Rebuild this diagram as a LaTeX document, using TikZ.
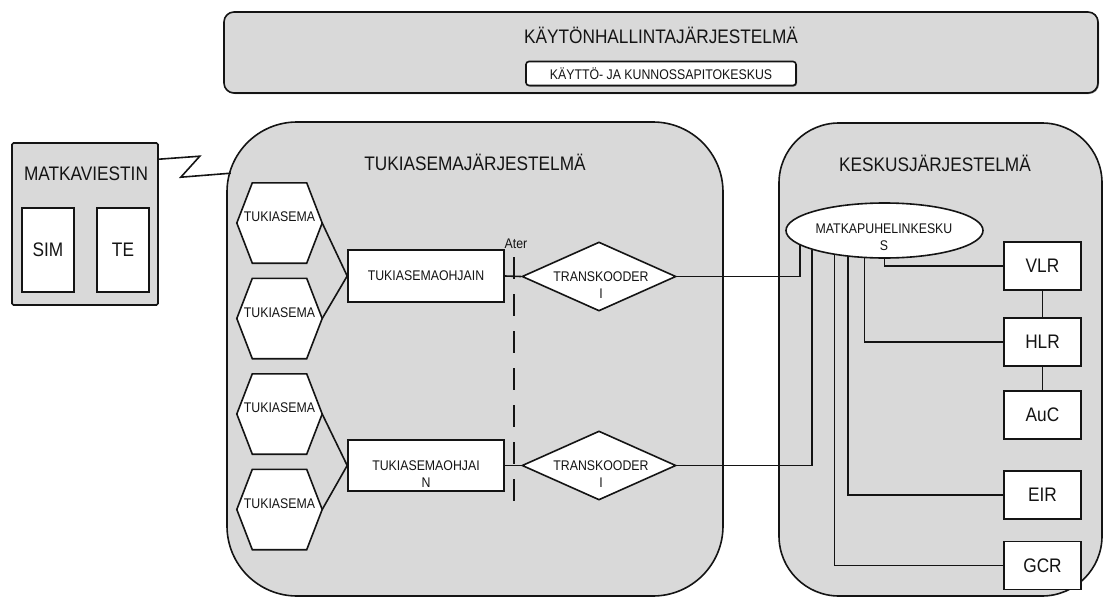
\documentclass[tikz,border=0pt]{standalone}
\usepackage{fontspec}
\setmainfont{Liberation Sans}[FakeStretch=0.88]
\usetikzlibrary{shapes.geometric,shadows}
\definecolor{panel}{RGB}{217,217,217}
\definecolor{ink}{RGB}{20,20,20}

% base station: a hexagon outline around an empty slot node, label set slightly high
\newcommand\tukiasema[2]{%
  \node[slot] (#1) at (279.5,#2) {};
  \draw[edge, fill=white] (#1.west) -- ([xshift=15.5pt]#1.north west)
    -- ([xshift=-15.5pt]#1.north east) -- (#1.east)
    -- ([xshift=-15.5pt]#1.south east) -- ([xshift=15.5pt]#1.south west) -- cycle;
  \node[smalltxt] at ([yshift=6pt]#1.center) {TUKIASEMA};}

\begin{document}
\begin{tikzpicture}[x=1pt,y=-1pt,
  edge/.style={draw=ink, line width=1.6pt},
  system/.style={draw=ink, line width=1.6pt, fill=panel, rounded corners=70pt, inner sep=0},
  whitebox/.style={draw=ink, line width=1.6pt, fill=white, inner sep=0},
  bigtxt/.style={font=\fontsize{19.6}{23}\selectfont, inner sep=0, text=ink},
  smalltxt/.style={font=\fontsize{14}{17}\selectfont, inner sep=0, align=center, text=ink},
  slot/.style={inner sep=0, minimum width=85pt, minimum height=80pt},
  register/.style={whitebox, bigtxt, minimum width=77pt, minimum height=48pt},
  transcoder/.style={diamond, draw=ink, line width=1.6pt, fill=white, inner sep=0,
    minimum width=154pt, minimum height=69pt},
  softshadow/.style={drop shadow={shadow xshift=1pt, shadow yshift=-1pt, fill=black, opacity=0.45}}]

\useasboundingbox (0,0) rectangle (1104,597);

% operation and maintenance subsystem
\node[system, rounded corners=10pt, minimum width=874pt, minimum height=81pt, softshadow] (oms) at (661,52.5) {};
\node[bigtxt] (omstitle) at (661,35) {KÄYTÖNHALLINTAJÄRJESTELMÄ};
\node[whitebox, smalltxt, rounded corners=3pt, minimum width=270pt, minimum height=24pt, softshadow] (omc) at (661,73.5) {KÄYTTÖ- JA KUNNOSSAPITOKESKUS};

% mobile station
\node[system, rounded corners=1.5pt, minimum width=146pt, minimum height=162pt] (ms) at (85,224) {};
\node[bigtxt] (mstitle) at (86,174) {MATKAVIESTIN};
\node[whitebox, bigtxt, minimum width=52pt, minimum height=84pt] (sim) at (48,250) {SIM};
\node[whitebox, bigtxt, minimum width=52pt, minimum height=84pt] (te) at (123,250) {TE};

% base station subsystem
\node[system, minimum width=496pt, minimum height=474pt] (bss) at (475,359) {};
\node[bigtxt] (bsstitle) at (475,162) {TUKIASEMAJÄRJESTELMÄ};

% network subsystem
\node[system, rounded corners=60pt, minimum width=323pt, minimum height=473pt] (nss) at (940.5,359.5) {};
\node[bigtxt] (nsstitle) at (935,163) {KESKUSJÄRJESTELMÄ};

% radio link
\draw[edge] ([yshift=-17pt]ms.north east) -- ++(41,-3) -- ++(-19,21) -- ++(50,-4);

% base stations
\tukiasema{h1}{223}
\tukiasema{h2}{318.5}
\tukiasema{h3}{414}
\tukiasema{h4}{509.5}

% base station controllers
\node[whitebox, smalltxt, minimum width=156pt, minimum height=52pt] (bsc1) at (426,276) {TUKIASEMAOHJAIN};
\node[whitebox, minimum width=156pt, minimum height=51pt] (bsc2) at (426,465.5) {};
\node[smalltxt] at (426,474.5) {TUKIASEMAOHJAI\\N};

% transcoders
\node[transcoder] (tc1) at (599,276.5) {};
\node[smalltxt] at (601,285) {TRANSKOODER\\I};
\node[transcoder] (tc2) at (599,465.5) {};
\node[smalltxt] at (601,474) {TRANSKOODER\\I};

% mobile switching centre
\node[ellipse, draw=ink, line width=1.6pt, fill=white, inner sep=0, minimum width=197pt, minimum height=55pt] (msc) at (884.5,230.5) {};
\node[smalltxt] at (884,237.5) {MATKAPUHELINKESKU\\S};

% registers
\node[register] (vlr) at (1042.5,266) {VLR};
\node[register] (hlr) at (1042.5,342) {HLR};
\node[register] (auc) at (1042.5,415) {AuC};
\node[register] (eir) at (1042.5,495) {EIR};
\node[register] (gcr) at (1042.5,565.5) {GCR};

% connections inside the base station subsystem
\draw[edge] (h1.east) -- (bsc1.west);
\draw[edge] (h2.east) -- (bsc1.west);
\draw[edge] (h3.east) -- (bsc2.west);
\draw[edge] (h4.east) -- (bsc2.west);
\draw[edge] (bsc1.east) -- (tc1.west);
\draw[edge] (bsc2.east) -- (tc2.west);

% A-interface boundary
\coordinate (cutTop) at (514,257);
\coordinate (cutBot) at (514,512);
\draw[edge, dash pattern=on 22pt off 15pt] (cutTop) -- (cutBot);
\node[smalltxt] (ater) at (516,244) {Ater};

% transcoders to the switching centre
\draw[edge] (tc1.east) -| (msc.190);
\draw[edge] (tc2.east) -| (msc.195.7);

% switching centre to registers
\draw[edge] (msc.south) |- (vlr.west);
\draw[edge] (msc.234.1) |- (hlr.west);
\draw[edge] (msc.216.75) |- (eir.west);
\draw[edge] (msc.206.9) |- (gcr.west);
\draw[edge] (vlr.south) -- (hlr.north);
\draw[edge] (hlr.south) -- (auc.north);

\end{tikzpicture}
\end{document}
